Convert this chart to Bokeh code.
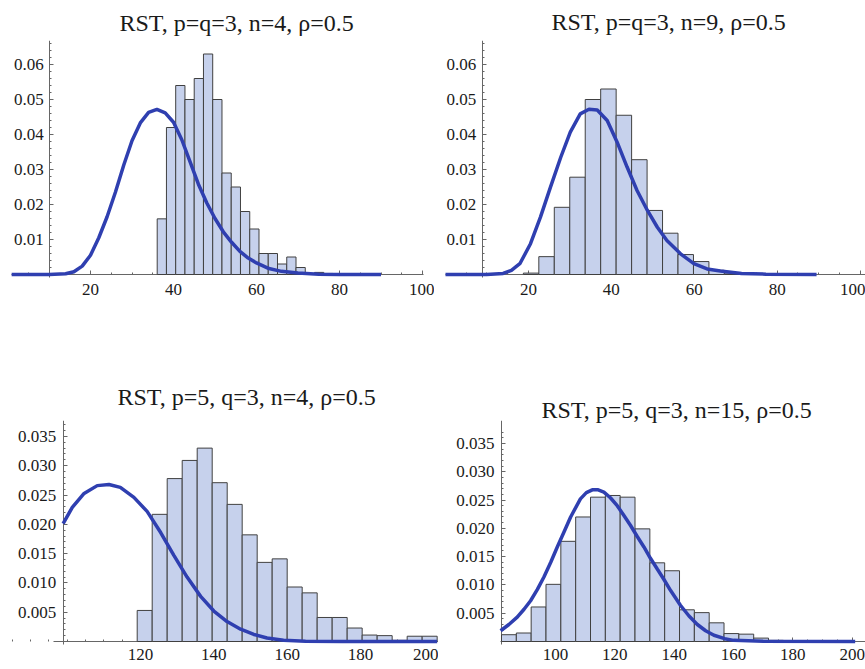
import numpy as np
from bokeh.plotting import figure
from bokeh.layouts import column, row
from bokeh.models import Range1d, FixedTicker, PrintfTickFormatter
from bokeh.embed import file_html
from bokeh.resources import INLINE

# ---------------- data ----------------
titles = ["RST, p=q=3, n=4, ρ=0.5", "RST, p=q=3, n=9, ρ=0.5",
          "RST, p=5, q=3, n=4, ρ=0.5", "RST, p=5, q=3, n=15, ρ=0.5"]

# panel 1 histogram (density)
p1_bin_start = 36.07
p1_bin_width = 2.23
p1_density = [0.0159, 0.0420, 0.0540, 0.0500, 0.0560, 0.0630, 0.0500, 0.0290,
              0.0250, 0.0180, 0.0130, 0.0060, 0.0060, 0.0030, 0.0050, 0.0020,
              0.0003, 0.0006, 0.0003]

# panel 2 histogram
p2_bin_start = 18.78
p2_bin_width = 3.73
p2_density = [0.0004, 0.0051, 0.0192, 0.0278, 0.0500, 0.0530, 0.0455, 0.0328,
              0.0183, 0.0118, 0.0057, 0.0037, 0.0012, 0.0004, 0.0002, 0.0001]

# panel 3 histogram
p3_bin_start = 119.1
p3_bin_width = 4.09
p3_density = [0.0053, 0.0217, 0.0278, 0.0309, 0.0330, 0.0271, 0.0234, 0.0182,
              0.0135, 0.0141, 0.0093, 0.0083, 0.0041, 0.0041, 0.0023, 0.0011,
              0.0010, 0.0002, 0.0009, 0.0009]

# panel 4 histogram
p4_bin_start = 81.8
p4_bin_width = 5.0
p4_density = [0.0012, 0.0015, 0.0061, 0.0101, 0.0177, 0.0220, 0.0255, 0.0258,
              0.0255, 0.0199, 0.0139, 0.0125, 0.0056, 0.0051, 0.0033, 0.0014,
              0.0013, 0.0006, 0.0002]

# limiting density curves
c1_x = [1, 10, 14, 16, 18, 20, 22, 24, 26, 28, 30, 32, 34, 36, 38, 40, 42, 44,
        46, 48, 50, 52, 54, 56, 58, 60, 63, 66, 70, 75, 80, 90]
c1_y = [0, 0, 0.0002, 0.0008, 0.0024, 0.0055, 0.0105, 0.0165, 0.0235, 0.0312,
        0.0382, 0.0433, 0.0463, 0.0472, 0.0462, 0.0435, 0.0385, 0.0322, 0.0258,
        0.0205, 0.0160, 0.0122, 0.0092, 0.0066, 0.0047, 0.0033, 0.0017, 0.0009,
        0.0004, 0.0001, 0, 0]

c2_x = [0, 9.9, 13.9, 15.9, 18.0, 20.5, 22.9, 25.3, 27.8, 30.1, 32.5, 34.6,
        36.6, 39.0, 41.4, 43.8, 46.2, 48.7, 51.1, 53.4, 56.7, 59.9, 63.1, 66.3,
        71.4, 77.3, 89.5]
c2_y = [0, 0, 0.0003, 0.0012, 0.0032, 0.0088, 0.0164, 0.0249, 0.0335, 0.0407,
        0.0459, 0.0472, 0.0470, 0.0440, 0.0378, 0.0307, 0.0240, 0.0183, 0.0135,
        0.0097, 0.0059, 0.0031, 0.0016, 0.0010, 0.0003, 0.0001, 0]

c3_x = [98.9, 101.4, 104.5, 108.2, 111.4, 114.5, 118.2, 121.8, 125.5, 129.1,
        132.7, 136.4, 140.0, 143.6, 147.3, 150.9, 154.5, 159.0, 165.0, 175.0,
        200.9]
c3_y = [0.0201, 0.0229, 0.0252, 0.0266, 0.0268, 0.0263, 0.0246, 0.0222, 0.0186,
        0.0147, 0.0110, 0.0077, 0.0052, 0.0034, 0.0021, 0.0012, 0.0006, 0.0002,
        0.00005, 0, 0]

c4_x = [81.5, 84.3, 87.1, 89.4, 91.6, 93.9, 96.1, 98.4, 100.6, 102.9, 105.1,
        108.4, 110.4, 112.4, 114.4, 116.3, 118.5, 120.8, 123.0, 125.3, 127.5,
        129.8, 132.0, 134.3, 136.5, 138.8, 142.1, 145.0, 147.8, 150.6, 153.4,
        157.0, 160.0, 170.0, 201.0]
c4_y = [0.0019, 0.0030, 0.0043, 0.0057, 0.0072, 0.0092, 0.0114, 0.0140, 0.0167,
        0.0194, 0.0220, 0.0252, 0.0263, 0.0268, 0.0268, 0.0264, 0.0254, 0.0240,
        0.0223, 0.0205, 0.0186, 0.0167, 0.0147, 0.0128, 0.0110, 0.0090, 0.0064,
        0.0045, 0.0030, 0.0019, 0.0011, 0.0005, 0.0002, 0.00003, 0]

# tick labels
top_xticks = [20, 40, 60, 80, 100]
top_yticks = [0.01, 0.02, 0.03, 0.04, 0.05, 0.06]
p3_xticks = [120, 140, 160, 180, 200]
p4_xticks = [100, 120, 140, 160, 180, 200]
bot_yticks = [0.005, 0.010, 0.015, 0.020, 0.025, 0.030, 0.035]

# ---------------- style ----------------
FONT = "Liberation Serif"
BAR_FILL = "#c6d1ec"
BAR_LINE = "#404040"
CURVE = "#2f3fb0"
AXIS = "#666666"


def span(p0, p1, ref_px, ref_val, scale):
    """data range covering pixels p0..p1 for a linear map (px = ref_px + (v-ref_val)*scale)"""
    return ref_val + (p0 - ref_px) / scale, ref_val + (p1 - ref_px) / scale


def make_panel(title, canvas, frame_top, xmap, ymap, title_offset, title_standoff,
               edges_start, edges_width, density, cx, cy,
               xticks, xminor, yticks, yminor, yfmt, y_axis_at,
               xbounds, ybounds, xstand, ystand):
    x0, y0, w, h = canvas
    xr = span(x0, x0 + w, *xmap)
    # y pixel grows downward
    ref_py, ref_v, sc = ymap
    yr = (ref_v + (ref_py - (y0 + h)) / sc, ref_v + (ref_py - frame_top) / sc)
    p = figure(width=w, height=h, x_range=Range1d(*xr), y_range=Range1d(*yr),
               output_backend="svg", toolbar_location=None,
               min_border_left=0, min_border_right=0,
               min_border_top=int(round(frame_top - y0)), min_border_bottom=0)
    p.title.text = title
    p.title.text_font = FONT
    p.title.text_font_size = "24px"
    p.title.text_font_style = "normal"
    p.title.text_color = "#1a1a1a"
    p.title.align = "left"
    p.title.offset = title_offset
    p.title.standoff = title_standoff
    p.xgrid.visible = False
    p.ygrid.visible = False
    p.outline_line_color = None
    p.background_fill_color = "white"
    p.border_fill_color = "white"

    left = edges_start + edges_width * np.arange(len(density))
    p.quad(left=left, right=left + edges_width, bottom=0, top=density,
           fill_color=BAR_FILL, line_color=BAR_LINE, line_width=1)
    p.line(cx, cy, line_color=CURVE, line_width=3.5)

    xa = p.xaxis[0]
    ya = p.yaxis[0]
    xa.fixed_location = 0
    ya.fixed_location = y_axis_at
    xa.bounds = xbounds
    ya.bounds = ybounds
    xa.ticker = FixedTicker(ticks=xticks, minor_ticks=xminor)
    ya.ticker = FixedTicker(ticks=yticks, minor_ticks=yminor)
    ya.formatter = PrintfTickFormatter(format=yfmt)
    for ax in (xa, ya):
        ax.level = "underlay"
        ax.axis_line_color = AXIS
        ax.major_tick_line_color = AXIS
        ax.minor_tick_line_color = AXIS
        ax.major_tick_in = 4
        ax.major_tick_out = 0
        ax.minor_tick_in = 2
        ax.minor_tick_out = 0
        ax.major_label_text_font = FONT
        ax.major_label_text_font_size = "17px"
        ax.major_label_text_color = "#1a1a1a"
    xa.major_label_standoff = xstand
    ya.major_label_standoff = ystand
    return p


top_xminor = list(np.arange(5, 101, 5))
top_yminor = list(np.round(np.arange(0.002, 0.067, 0.002), 4))
bot_xminor = list(np.arange(85, 201, 5))
bot_yminor = list(np.round(np.arange(0.001, 0.038, 0.001), 4))

p1 = make_panel(titles[0], (0, 0, 434, 338), 40, (90, 20, 4.15), (274, 0, 3500),
                119, 9.6, p1_bin_start, p1_bin_width, p1_density, c1_x, c1_y,
                top_xticks, top_xminor, top_yticks, top_yminor, "%.2f", 10.2,
                (1, 100.3), (-0.0008, 0.0669), 9, 6)
p2 = make_panel(titles[1], (434, 0, 431, 338), 40, (445, 0, 4.146), (274, 0, 3500),
                117, 10.4, p2_bin_start, p2_bin_width, p2_density, c2_x, c2_y,
                top_xticks, top_xminor, top_yticks, top_yminor, "%.2f", 8.85,
                (0, 101.3), (-0.0008, 0.0669), 9, 6)
p3 = make_panel(titles[2], (0, 338, 438, 331), 420, (140, 120, 3.667), (641, 0, 5860),
                117, 22, p3_bin_start, p3_bin_width, p3_density, c3_x, c3_y,
                p3_xticks, bot_xminor, bot_yticks, bot_yminor, "%.3f", 98.9,
                (96.3, 201.3), (-0.0005, 0.0377), 7, 7)
p4 = make_panel(titles[3], (438, 338, 427, 331), 420, (555, 100, 2.967), (641, 0, 5660),
                103, -4.6, p4_bin_start, p4_bin_width, p4_density, c4_x, c4_y,
                p4_xticks, bot_xminor, bot_yticks, bot_yminor, "%.3f", 81.8,
                (81.46, 204.4), (-0.0005, 0.039), 7, 7)

layout = column(row(p1, p2), row(p3, p4))
open("out.html", "w").write(file_html(layout, INLINE))
